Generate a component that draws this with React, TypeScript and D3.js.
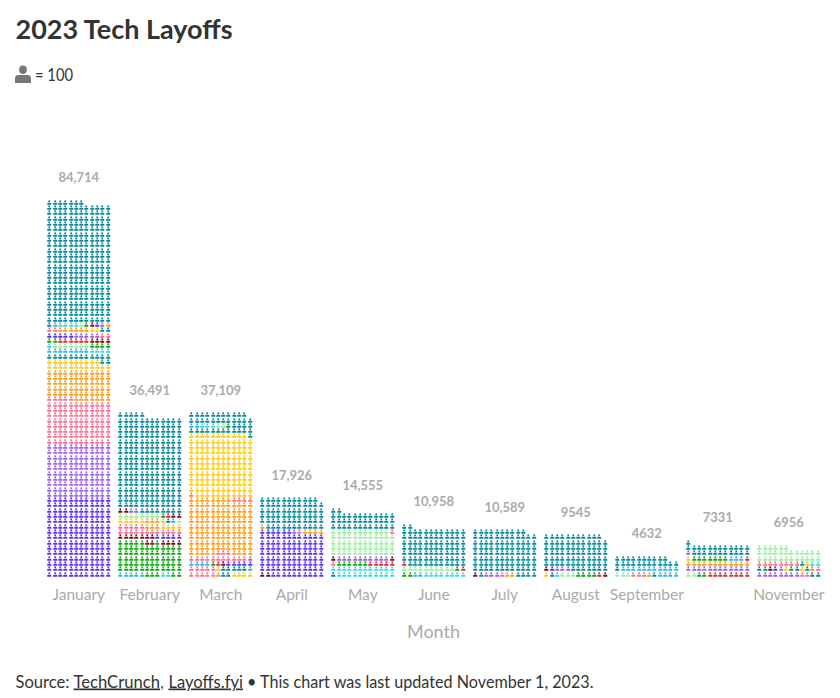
import React from "react";
import * as d3 from "d3";

const months = ["January","February","March","April","May","June","July","August","September","October","November"];
const tickLabels = ["January","February","March","April","May","June","July","August","September","","November"];
const totals = [84714,36491,37109,17926,14555,10958,10589,9545,4632,7331,6956];
const totalLabels = ["84,714","36,491","37,109","17,926","14,555","10,958","10,589","9545","4632","7331","6956"];

const colorKeys = ["indigo","purple","pink","orange","yellow","teal","sky","cyan","ltgreen","green","red","darkred"];
const colorValues = ["#5a30f0","#a05ee8","#ff6b8e","#ff9a14","#ffc90e","#05879c","#2cb5f5","#2fdde8","#98f09c","#0ea50e","#d8283c","#7c0a1c"];

type Run = [string, number];
const january: Run[] = [["indigo",180],["purple",120],["pink",101],["orange",67],["yellow",22],["teal",14],["sky",8],["cyan",4],["cyan",1],["ltgreen",7],["green",6],["red",6],["darkred",4],["indigo",5],["purple",5],["pink",4],["orange",6],["yellow",2],["teal",3],["sky",1],["cyan",4],["ltgreen",1],["green",1],["darkred",1],["indigo",1],["purple",1],["orange",1],["teal",271]];
const february: Run[] = [["sky",5],["green",3],["cyan",2],["green",2],["green",65],["darkred",2],["green",1],["darkred",4],["darkred",7],["indigo",5],["pink",17],["orange",3],["yellow",9],["orange",3],["yellow",1],["teal",1],["sky",1],["ltgreen",9],["green",1],["red",1],["darkred",4],["purple",2],["teal",217]];
const march: Run[] = [["pink",5],["orange",1],["teal",2],["yellow",4],["pink",5],["yellow",1],["teal",5],["sky",1],["sky",4],["green",1],["red",1],["darkred",1],["indigo",5],["pink",11],["purple",1],["orange",5],["pink",3],["orange",4],["orange",116],["pink",5],["yellow",142],["teal",13],["sky",2],["cyan",3],["ltgreen",2],["green",1],["teal",27]];
const april: Run[] = [["darkred",2],["indigo",100],["purple",1],["pink",1],["orange",5],["teal",70]];
const may: Run[] = [["teal",1],["cyan",23],["pink",1],["green",6],["red",5],["darkred",1],["purple",10],["darkred",1],["ltgreen",59],["pink",1],["teal",38]];
const june: Run[] = [["green",2],["sky",2],["cyan",8],["ltgreen",10],["green",1],["red",2],["teal",85]];
const july: Run[] = [["darkred",1],["teal",1],["purple",3],["pink",1],["orange",2],["teal",98]];
const august: Run[] = [["yellow",1],["teal",1],["cyan",1],["ltgreen",3],["green",4],["red",1],["darkred",2],["indigo",1],["purple",3],["teal",78]];
const september: Run[] = [["ltgreen",3],["pink",3],["orange",1],["teal",1],["sky",4],["teal",1],["sky",11],["teal",22]];
const october: Run[] = [["ltgreen",2],["green",2],["red",8],["purple",12],["orange",12],["yellow",1],["green",7],["sky",3],["red",1],["purple",1],["teal",24]];
const november: Run[] = [["purple",8],["pink",2],["teal",3],["green",1],["darkred",1],["indigo",1],["purple",1],["yellow",1],["green",1],["teal",1],["yellow",1],["green",1],["pink",10],["teal",1],["yellow",1],["cyan",2],["ltgreen",30]];
const monthRuns = [january,february,march,april,may,june,july,august,september,october,november];

const COLS = 12;
const PER_ICON = 100;
const color = d3.scaleOrdinal<string,string>().domain(colorKeys).range(colorValues);

// a person, drawn in a box 0..1 wide and 0..1 high
const personPath = d3.path();
personPath.arc(0.5, 0.24, 0.24, 0, Math.PI * 2);
personPath.closePath();
personPath.moveTo(0, 1);
personPath.lineTo(0, 0.74);
personPath.quadraticCurveTo(0, 0.54, 0.22, 0.54);
personPath.lineTo(0.78, 0.54);
personPath.quadraticCurveTo(1, 0.54, 1, 0.74);
personPath.lineTo(1, 1);
personPath.closePath();
const personD = personPath.toString();

const band = d3.scaleBand<string>().domain(months).range([43.3, 824.3]).paddingInner(0.113).paddingOuter(0.056);
const colX = d3.scaleLinear().domain([0, COLS - 1]).range([0, 58.4]);
const rowY = d3.scaleLinear().domain([0, 71]).range([571.5, 194.5]);

const font = "Lato, 'Noto Sans', sans-serif";

const footerParts = [
  { text: "Source:", x: 15.5, len: 54, link: false },
  { text: "TechCrunch", x: 73.5, len: 86.5, link: true },
  { text: ",", x: 160.5, len: 3, link: false },
  { text: "Layoffs.fyi", x: 168.5, len: 74.5, link: true },
  { text: "• This chart was last updated November 1, 2023.", x: 247, len: 346.5, link: false },
];

function cellsOf(runs: Run[]) {
  const out: { col: number; row: number; key: string }[] = [];
  let n = 0;
  for (const [key, count] of runs) {
    for (let i = 0; i < count; i++, n++) {
      out.push({ col: n % COLS, row: Math.floor(n / COLS), key });
    }
  }
  return out;
}

export default function App() {
  return (
    <svg width={840} height={698} style={{ position: "absolute", left: 0, top: 0, background: "#fff" }}>
      <text x={15.5} y={39} fontFamily={font} fontWeight={700} fontSize={27} fill="#333" textLength={217} lengthAdjust="spacingAndGlyphs">2023 Tech Layoffs</text>
      <path d={personD} transform="translate(15,65.5) scale(16,17.5)" fill="#777" />
      <text x={35} y={81} fontFamily={font} fontSize={16.5} fill="#333" textLength={38} lengthAdjust="spacingAndGlyphs">= 100</text>

      {months.map((m, mi) => {
        const x0 = band(m)!;
        const cx = x0 + band.bandwidth() / 2;
        const cells = cellsOf(monthRuns[mi]);
        const topRow = Math.floor(Math.max(0, totals[mi] / PER_ICON - 0.5) / COLS);
        return (
          <g key={m}>
            {cells.map((c, i) => (
              <path key={i} d={personD}
                transform={`translate(${Math.round(x0 + colX(c.col)) + 0.2},${Math.round(rowY(c.row)) + 0.2}) scale(4.1,4.5)`}
                fill={color(c.key)} />
            ))}
            <text x={cx} y={rowY(topRow) - 17.5} textAnchor="middle" fontFamily={font} fontWeight={700} fontSize={13} fill="#aaa">{totalLabels[mi]}</text>
            <text x={cx} y={600} textAnchor="middle" fontFamily={font} fontSize={15.5} fill="#aaa">{tickLabels[mi]}</text>
          </g>
        );
      })}

      <text x={433.5} y={638} textAnchor="middle" fontFamily={font} fontSize={18} fill="#aaa">Month</text>

      {footerParts.map((p) => (
        <text key={p.text} x={p.x} y={687.5} fontFamily={font} fontSize={17} fill="#333"
          textLength={p.len} lengthAdjust="spacingAndGlyphs"
          textDecoration={p.link ? "underline" : undefined}>{p.text}</text>
      ))}
    </svg>
  );
}
